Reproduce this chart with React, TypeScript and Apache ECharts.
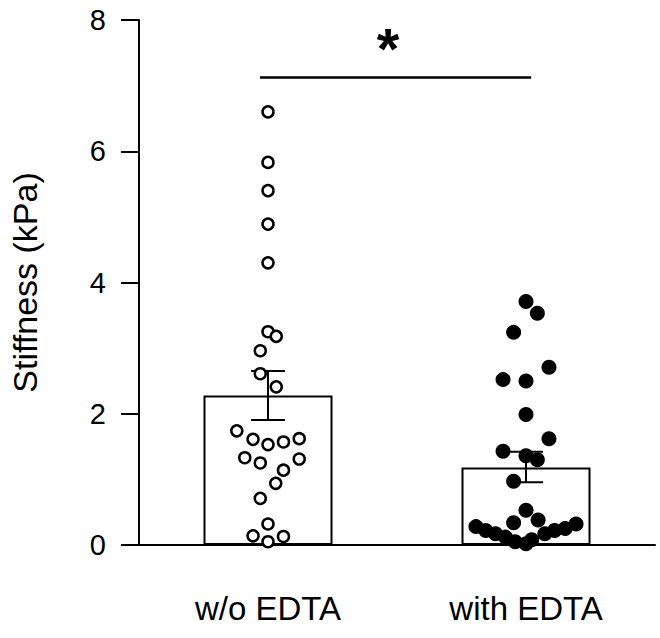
import React, { useEffect, useRef } from "react";
import * as echarts from "echarts";

const categories = ["w/o EDTA", "with EDTA"];
const barMeans = [2.28, 1.18];
const errLow = [1.905, 0.955];
const errHigh = [2.65, 1.42];
const yTicks = [0, 2, 4, 6, 8];

// group 1 (open circles): values and horizontal jitter (fraction of category width)
const noEdtaValues = [6.6, 5.83, 5.4, 4.89, 4.3, 3.25, 3.18, 2.96, 2.61, 2.41, 1.74, 1.61, 1.53, 1.57, 1.62, 1.33, 1.25, 1.31, 1.14, 0.94, 0.71, 0.32, 0.14, 0.13, 0.05];
const noEdtaJitter = [0, 0, 0, 0, 0, 0, 0.032, -0.03, -0.03, 0.032, -0.121, -0.058, 0, 0.06, 0.121, -0.09, -0.03, 0.121, 0.06, 0.03, -0.03, 0, -0.058, 0.06, 0];

// group 2 (filled circles)
const edtaValues = [3.71, 3.53, 3.24, 2.71, 2.52, 2.5, 1.99, 1.62, 1.43, 1.36, 1.3, 0.97, 0.53, 0.34, 0.38, 0.28, 0.22, 0.17, 0.12, 0.05, 0.02, 0.08, 0.17, 0.22, 0.25, 0.32];
const edtaJitter = [0, 0.044, -0.048, 0.089, -0.089, 0, 0, 0.089, -0.089, 0, 0.044, -0.048, 0, -0.048, 0.047, -0.194, -0.156, -0.118, -0.08, -0.042, 0, 0.022, 0.073, 0.111, 0.152, 0.194];

const sigFrom = 0.469;
const sigTo = 1.52;
const sigLevel = 7.13;
const sigMarkX = 0.965;

const FONT = "'Liberation Sans', Arial, Helvetica, sans-serif";

export default function App() {
  const ref = useRef<HTMLDivElement>(null);

  useEffect(() => {
    if (!ref.current) return;
    const chart = echarts.init(ref.current, null, { renderer: "svg" });

    const pts1 = noEdtaValues.map((v, i) => [0.5 + noEdtaJitter[i], v]);
    const pts2 = edtaValues.map((v, i) => [1.5 + edtaJitter[i], v]);

    chart.setOption({
      animation: false,
      backgroundColor: "#fff",
      grid: { left: 130, right: 5, top: 20, bottom: 93, containLabel: false },
      xAxis: [
        {
          type: "category",
          data: categories,
          axisLine: { lineStyle: { color: "#000", width: 2 } },
          axisTick: { alignWithLabel: true, length: 17, lineStyle: { color: "#000", width: 2 } },
          axisLabel: { color: "#000", fontSize: 33, fontFamily: FONT, margin: 47 },
          splitLine: { show: false },
        },
        {
          type: "value",
          min: 0,
          max: 2,
          show: false,
          splitLine: { show: false },
        },
      ],
      yAxis: {
        type: "value",
        min: 0,
        max: 8,
        interval: 2,
        name: "Stiffness (kPa)",
        nameLocation: "middle",
        nameGap: 97,
        nameTextStyle: { color: "#000", fontSize: 34, fontFamily: FONT },
        axisLine: { show: true, lineStyle: { color: "#000", width: 2 } },
        axisTick: { show: true, length: 18, lineStyle: { color: "#000", width: 2 } },
        axisLabel: {
          color: "#000",
          fontSize: 29,
          fontFamily: FONT,
          margin: 33,
          formatter: (v: number) => (yTicks.includes(v) ? String(v) : ""),
        },
        splitLine: { show: false },
      },
      series: [
        {
          type: "bar",
          xAxisIndex: 0,
          data: barMeans,
          barWidth: "50%",
          itemStyle: { color: "#fff", borderColor: "#000", borderWidth: 2 },
          z: 1,
        },
        {
          type: "custom",
          xAxisIndex: 0,
          z: 2,
          data: categories.map((_, i) => [i, errLow[i], errHigh[i]]),
          renderItem: (params: any, api: any) => {
            const idx = api.value(0);
            const lo = api.coord([idx, api.value(1)]);
            const hi = api.coord([idx, api.value(2)]);
            const half = 17;
            const style = { stroke: "#000", lineWidth: 2 };
            return {
              type: "group",
              children: [
                { type: "line", shape: { x1: lo[0], y1: lo[1], x2: hi[0], y2: hi[1] }, style },
                { type: "line", shape: { x1: hi[0] - half, y1: hi[1], x2: hi[0] + half, y2: hi[1] }, style },
                { type: "line", shape: { x1: lo[0] - half, y1: lo[1], x2: lo[0] + half, y2: lo[1] }, style },
              ],
            };
          },
        },
        {
          type: "scatter",
          xAxisIndex: 1,
          data: pts1,
          symbol: "circle",
          symbolSize: 11,
          itemStyle: { color: "#fff", borderColor: "#000", borderWidth: 2.5, opacity: 1 },
          z: 3,
        },
        {
          type: "scatter",
          xAxisIndex: 1,
          data: pts2,
          symbol: "circle",
          symbolSize: 15,
          itemStyle: { color: "#000", opacity: 1 },
          z: 3,
        },
        {
          type: "scatter",
          xAxisIndex: 1,
          data: [[sigMarkX, sigLevel]],
          symbolSize: 0,
          silent: true,
          z: 4,
          itemStyle: { opacity: 1 },
          label: {
            show: true,
            formatter: "*",
            color: "#000",
            fontSize: 58,
            fontWeight: "bold",
            fontFamily: FONT,
            position: "inside",
            offset: [0, -29],
          },
          markLine: {
            silent: true,
            symbol: "none",
            label: { show: false },
            lineStyle: { color: "#000", width: 2.5, type: "solid", opacity: 1 },
            data: [[{ coord: [sigFrom, sigLevel] }, { coord: [sigTo, sigLevel] }]],
          },
        },
      ],
    });

    return () => chart.dispose();
  }, []);

  return (
    <div
      ref={ref}
      style={{ position: "absolute", left: 0, top: 0, width: 660, height: 638, background: "#fff" }}
    />
  );
}
